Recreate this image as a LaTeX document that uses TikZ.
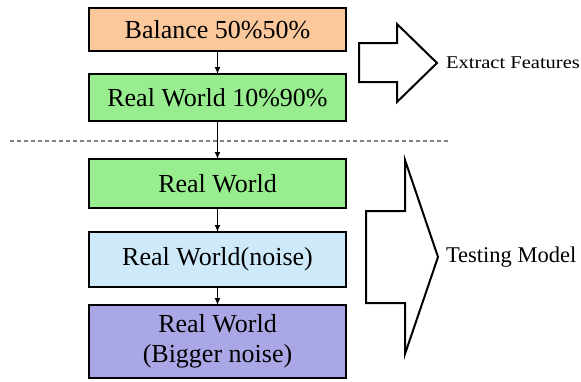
\documentclass[tikz,border=0pt]{standalone}
\usepackage{fontspec}
\setmainfont{Liberation Serif}
\newfontfamily\widefont[FakeStretch=1.14]{Liberation Serif}
\usetikzlibrary{calc,arrows.meta}

\definecolor{balorange}{RGB}{250,200,155}
\definecolor{realgreen}{RGB}{152,238,142}
\definecolor{noiseblue}{RGB}{206,234,250}
\definecolor{bigpurple}{RGB}{170,167,230}

\tikzset{
    stagebox/.style={draw=black, line width=2pt, minimum width=257pt, align=center,
        font=\fontsize{26}{30}\selectfont},
    flowline/.style={line width=1.7pt, -{Latex[length=7pt,width=6pt]}},
    blockarrow/.style={draw=black, line width=2pt, fill=white, line join=miter}
}

\begin{document}
\begin{tikzpicture}[x=1pt,y=-1pt,inner sep=0pt,outer sep=0pt]
    \useasboundingbox (0,0) rectangle (581,381);

    % training part
    \node[stagebox, fill=balorange, minimum height=43pt] (bal_box) at (217.5, 29.5)
    {Balance 50\%50\%};
    \node[stagebox, fill=realgreen, minimum height=47pt] (real_split_box) at (217.5, 97.5)
    {Real World 10\%90\%};

    % separator
    \draw[gray, dashed, line width=1.2pt, dash pattern=on 4pt off 3pt] (10,141) -- (448,141);

    % testing part
    \node[stagebox, fill=realgreen, minimum height=49pt] (real_box) at (217.5, 183.5)
    {Real World};
    \node[stagebox, fill=noiseblue, minimum height=55pt] (noise_box) at (217.5, 259.5)
    {Real World(noise)};
    \node[stagebox, fill=bigpurple, minimum height=73pt] (big_noise_box) at (217.5, 341.5)
    {Real World\\(Bigger noise)};

    % flow
    \draw[flowline] (bal_box.south) -- (real_split_box.north);
    \draw[flowline] (real_split_box.south) -- (real_box.north);
    \draw[flowline] (real_box.south) -- (noise_box.north);
    \draw[flowline] (noise_box.south) -- (big_noise_box.north);

    % extract arrow
    \coordinate (ext_tip) at (437,63);
    \draw[blockarrow] (359,43) -- (397,43) -- (397,24) -- (ext_tip) -- (397,102)
        -- (397,82) -- (359,82) -- cycle;
    \node[anchor=west] (ext_label) at ($(ext_tip) + (9pt, 0)$)
    {\widefont\fontsize{18}{20}\selectfont Extract Features};

    % testing arrow
    \coordinate (test_tip) at (438,257);
    \draw[blockarrow] (366,211) -- (405,211) -- (405,160) -- (test_tip) -- (405,354)
        -- (405,303) -- (366,303) -- cycle;
    \node[anchor=west] (test_label) at ($(test_tip) + (8pt, 0)$)
    {\fontsize{22.5}{25}\selectfont Testing Model};

\end{tikzpicture}
\end{document}
